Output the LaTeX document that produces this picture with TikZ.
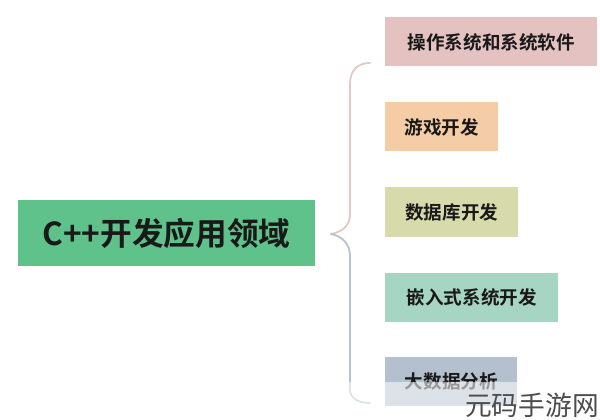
\documentclass[tikz,border=0pt]{standalone}
\usepackage{fontspec}
\usetikzlibrary{math}
\newfontfamily\cjk[BoldFont={Noto Sans CJK SC Bold}]{Noto Sans CJK SC}
\definecolor{rootgreen}{HTML}{5EC28A}
\definecolor{ospink}{HTML}{E3C2C1}
\definecolor{gamepeach}{HTML}{F4CDA6}
\definecolor{dbolive}{HTML}{D7DAAA}
\definecolor{embteal}{HTML}{A7D5C4}
\definecolor{bigblue}{HTML}{B5C0CE}
\definecolor{bracetop}{HTML}{E3C9C5}
\definecolor{bracebot}{HTML}{B9C3CD}

\begin{document}
\begin{tikzpicture}[x=0.025cm,y=-0.025cm,
	rootbox/.style={fill=rootgreen,inner sep=0pt,minimum width=297*0.025cm,minimum height=66*0.025cm,
		font=\cjk\bfseries\fontsize{22.5}{23}\selectfont,text=black!90},
	leafbox/.style={anchor=west,inner sep=0pt,minimum height=49*0.025cm,
		font=\cjk\bfseries\fontsize{13.2}{14}\selectfont,text=black!90},
	brace/.style={line width=1.3pt,line cap=round}]
	\useasboundingbox (0,0) rectangle (600,420);
	\tikzmath{\lx=385; \bx=350;
	\ay=42; \by=127; \cy=212; \dy=297; \ey=381;
	\tipx=331; \tipy=234;
	}
	% root
	\node[rootbox] (root) at (166.5,233) {C++开发应用领域};
	% leaves
	\node[leafbox,fill=ospink,minimum width=212*0.025cm] (os) at (\lx,\ay) {操作系统和系统软件};
	\node[leafbox,fill=gamepeach,minimum width=113*0.025cm] (game) at (\lx,\by) {游戏开发};
	\node[leafbox,fill=dbolive,minimum width=133*0.025cm] (db) at (\lx,\cy) {数据库开发};
	\node[leafbox,fill=embteal,minimum width=173*0.025cm] (emb) at (\lx,\dy) {嵌入式系统开发};
	\node[leafbox,fill=bigblue,minimum width=132*0.025cm] (big) at (\lx,\ey) {大数据分析};
	% brace
	\coordinate (tip) at (\tipx,\tipy);
	\coordinate (top) at (370,63);
	\coordinate (bot) at (370,403);
	\draw[brace,bracetop] (tip) .. controls (342,232) and (\bx,226) .. (\bx,214)
		-- (\bx,84) .. controls (\bx,70) and (358,63) .. (top);
	\draw[brace,bracebot] (tip) .. controls (342,236) and (\bx,244) .. (\bx,256)
		-- (\bx,390) .. controls (\bx,398) and (358,403) .. (bot);
	% watermark
	\fill[white,opacity=0.55] (330,382) rectangle (600,420);
	\node[anchor=south east,inner sep=0pt,font=\cjk\fontsize{19}{19}\selectfont,text=black!70] (mark) at (599,418) {元码手游网};
\end{tikzpicture}
\end{document}
